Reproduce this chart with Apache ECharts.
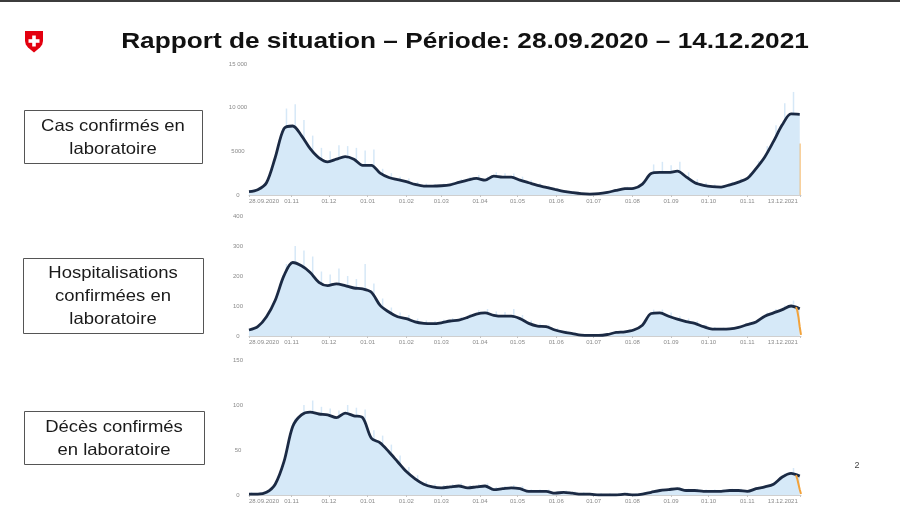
<!DOCTYPE html>
<html><head><meta charset="utf-8">
<script src="https://cdn.jsdelivr.net/npm/echarts/dist/echarts.min.js"></script>
<style>html,body{margin:0;padding:0;background:#fff}#c{width:900px;height:508px}</style>
</head><body><div id="c"></div>
<script>
// ---------- data ----------
const titleText = 'Rapport de situation \u2013 P\u00e9riode: 28.09.2020 \u2013 14.12.2021';
const panelLabels = ['Cas confirm\u00e9s en\nlaboratoire', 'Hospitalisations\nconfirm\u00e9es en\nlaboratoire', 'D\u00e9c\u00e8s confirm\u00e9s\nen laboratoire'];
const pageNumber = '2';

const xLabelDays = ['28.09.2020','01.11.2020','01.12.2020','01.01.2021','01.02.2021','01.03.2021','01.04.2021','01.05.2021','01.06.2021','01.07.2021','01.08.2021','01.09.2021','01.10.2021','01.11.2021','13.12.2021'];
const xTickLabels = ['28.09.2020','01.11','01.12','01.01','01.02','01.03','01.04','01.05','01.06','01.07','01.08','01.09','01.10','01.11','13.12.2021'];

// weekly 7-day average values (every 7 days from 28.09.2020)
const casesLine = [380,600,1400,4300,7600,7900,6800,5300,4250,3800,4100,4400,4100,3400,3400,2500,2000,1750,1520,1210,1020,1020,1060,1170,1440,1700,1900,1700,2160,2050,2050,1700,1400,1100,870,640,420,270,150,110,150,300,530,720,760,1250,2460,2580,2580,2730,2080,1400,1100,950,910,1170,1480,1900,3030,4360,6140,8030,9280,9240];
const hospLine = [20,31,64,119,201,245,234,212,179,168,174,168,160,157,146,102,80,64,58,47,42,41,44,50,53,62,73,77,69,66,66,58,42,33,31,20,13,8,3,2,2,5,12,14,20,36,75,77,66,56,48,42,31,23,23,24,29,38,47,66,77,88,100,91];
const deathsLine = [1,1,3,12,37,76,89,92,90,89,86,91,88,86,63,58,48,37,26,18,12,9,8,9,10,8,9,10,6,7,8,7,4,4,4,2,3,2,1,1,0,0,0,1,0,1,3,5,6,7,5,5,4,4,4,5,5,4,7,9,12,20,24,21];

// weekly peak daily values (light bars)
const casesPeak = [600,900,2000,5800,9900,10400,8600,6800,5400,5000,5700,5600,5400,5100,5200,3000,2500,2100,1900,1500,1300,1250,1300,1450,1800,2100,2300,2100,2600,2500,2450,2100,1700,1350,1050,780,520,340,200,150,200,400,700,950,1000,1700,3500,3800,3400,3800,2600,1800,1400,1200,1150,1500,1900,2500,3900,5600,8000,10500,11800];
const hospPeak = [25,38,75,140,240,300,285,265,215,205,225,200,190,240,175,125,95,78,70,58,52,50,54,60,64,74,86,90,82,80,90,70,52,42,38,26,18,12,6,5,5,8,16,18,26,46,88,88,78,66,58,50,38,30,28,30,36,46,56,78,90,102,118];
const deathsPeak = [3,3,5,15,42,85,100,105,98,96,94,100,97,95,72,66,56,44,31,22,15,12,11,12,13,11,12,13,9,10,11,10,6,6,6,4,5,4,3,2,2,2,2,3,2,3,5,7,8,9,7,7,6,6,6,7,7,6,9,11,15,24,30];

// incomplete most recent days (orange)
const casesIncomplete = [5900];          // day index 441
const hospIncomplete = [96,85,62,30,4];  // day indices 438..442
const deathsIncomplete = [22,18,12,6,1]; // day indices 438..442

const yMax = [15000, 400, 150];
const yStep = [5000, 100, 50];

// ---------- build ----------
const dayCount = 443;
function pad(n){return (n<10?'0':'')+n;}
const cats = [];
for (let i=0;i<dayCount;i++){
  const d = new Date(Date.UTC(2020,8,28+i));
  cats.push(pad(d.getUTCDate())+'.'+pad(d.getUTCMonth()+1)+'.'+d.getUTCFullYear());
}
const labelSet = new Set(xLabelDays);
function weekly(arr, offset){
  const a = new Array(dayCount).fill(null);
  arr.forEach((v,k)=>{ const i=7*k+offset; if(i<dayCount) a[i]=v; });
  return a;
}
function tail(arr, start){
  const a = new Array(dayCount).fill(null);
  arr.forEach((v,k)=>{ a[start+k]=v; });
  return a;
}
const layout = [
  {top:64, height:131},
  {top:216, height:120},
  {top:360, height:135}
];
const lines = [casesLine, hospLine, deathsLine];
const peaks = [casesPeak, hospPeak, deathsPeak];
const orange = '#f2a23a';
const grids=[], xAxes=[], yAxes=[], series=[];
layout.forEach((L,i)=>{
  grids.push({left:249, right:99, top:L.top, height:L.height, containLabel:false});
  xAxes.push({
    type:'category', gridIndex:i, data:cats, boundaryGap:false,
    axisLine:{show:true, lineStyle:{color:'#cfcfcf', width:1}},
    axisTick:{show:true, interval:(idx,val)=>labelSet.has(val), length:2, lineStyle:{color:'#c4c4c4'}},
    axisLabel:{
      interval:(idx,val)=>labelSet.has(val), fontSize:6, color:'#8a8a8a', margin:3,
      fontFamily:'Liberation Sans', hideOverlap:false,
      formatter:(val)=>{
        const j = xLabelDays.indexOf(val);
        if (j===0) return '{first|'+xTickLabels[j]+'}';
        if (j===xLabelDays.length-1) return '{last|'+xTickLabels[j]+'}';
        return xTickLabels[j];
      },
      rich:{
        first:{fontSize:6, color:'#8a8a8a', fontFamily:'Liberation Sans', padding:[0,0,0,30]},
        last:{fontSize:6, color:'#8a8a8a', fontFamily:'Liberation Sans', padding:[0,34,0,0]}
      }
    },
    splitLine:{show:false}
  });
  yAxes.push({
    type:'value', gridIndex:i, min:0, max:yMax[i], interval:yStep[i],
    splitLine:{show:false}, axisLine:{show:false}, axisTick:{show:false},
    axisLabel:{fontSize:6, color:'#8a8a8a', margin:11, align:'center', fontFamily:'Liberation Sans',
      formatter:(v)=> v>=10000 ? String(v).replace(/\B(?=(\d{3})+(?!\d))/g,' ') : String(v)}
  });
  const spike = weekly(peaks[i], 2);
  if (i===0) spike[441] = {value:casesIncomplete[0], itemStyle:{color:orange}};
  series.push({type:'bar', xAxisIndex:i, yAxisIndex:i, data:spike, barWidth:1.5,
    itemStyle:{color:'#d6e8f7'}, z:1, silent:true});
  series.push({type:'line', xAxisIndex:i, yAxisIndex:i, data:weekly(lines[i],0), connectNulls:true,
    showSymbol:false, smooth:0.3, lineStyle:{color:'#1b2a44', width:2.8},
    areaStyle:{color:'#d6e9f8', opacity:1}, z:2, silent:true});
  if (i>0) {
    series.push({type:'line', xAxisIndex:i, yAxisIndex:i, data:tail(i===1?hospIncomplete:deathsIncomplete, 438),
      showSymbol:false, lineStyle:{color:orange, width:2}, z:3, silent:true});
  }
});

const graphic = [
  {type:'rect', shape:{x:0,y:0,width:900,height:2}, style:{fill:'#3c3c3c'}},
  {type:'polygon', shape:{points:[[25,31],[43,31],[43,41],[42.2,44.5],[40,47.5],[37,50],[34,52.5],[31,50],[28,47.5],[25.8,44.5],[25,41]]}, style:{fill:'#e3000f'}},
  {type:'rect', shape:{x:32.2, y:35.5, width:3.6, height:11}, style:{fill:'#fff'}},
  {type:'rect', shape:{x:28.5, y:39.2, width:11, height:3.6}, style:{fill:'#fff'}},
  {type:'text', x:465, y:42, scaleX:1.165, style:{text:titleText, x:0, y:0, align:'center', verticalAlign:'middle',
    font:'bold 22.5px "Liberation Sans", Arial, sans-serif', fill:'#111'}},
  {type:'text', style:{text:pageNumber, x:857, y:466, align:'center', verticalAlign:'middle', font:'9px "Liberation Sans", Arial', fill:'#444'}}
];
const boxes = [
  {x:24, y:110, w:178, h:53},
  {x:23, y:258, w:180, h:75},
  {x:24, y:411, w:180, h:53}
];
boxes.forEach((b,i)=>{
  graphic.push({type:'rect', shape:{x:b.x+0.5, y:b.y+0.5, width:b.w, height:b.h}, style:{fill:'#fff', stroke:'#555', lineWidth:1}});
  graphic.push({type:'text', x:b.x+b.w/2, y:b.y+b.h/2+1, scaleX:1.12, style:{text:panelLabels[i], x:0, y:0, align:'center', verticalAlign:'middle',
    font:'16.5px "Liberation Sans", Arial, sans-serif', lineHeight:23, fill:'#1a1a1a'}});
});

const chart = echarts.init(document.getElementById('c'), null, {renderer:'canvas'});
chart.setOption({
  animation:false,
  backgroundColor:'#fff',
  grid:grids, xAxis:xAxes, yAxis:yAxes, series:series, graphic:graphic
});
</script>
</body></html>
